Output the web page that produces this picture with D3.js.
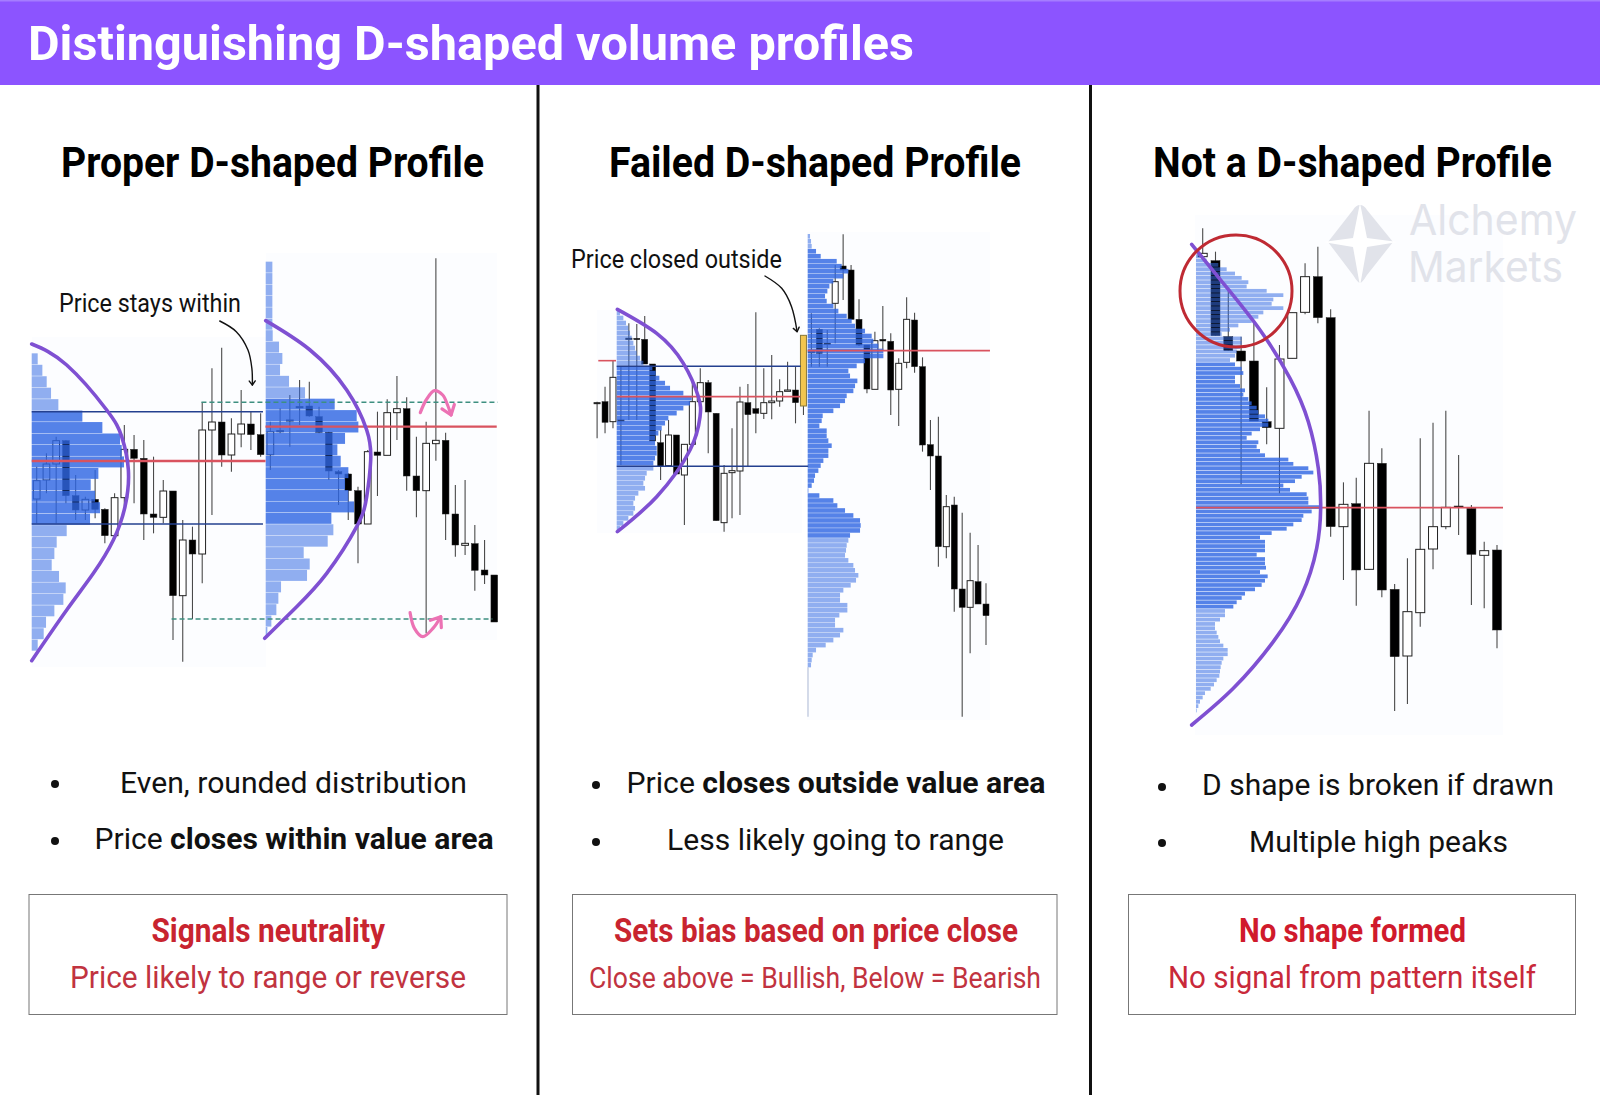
<!DOCTYPE html>
<html>
<head>
<meta charset="utf-8">
<title>Distinguishing D-shaped volume profiles</title>
<script src="https://cdn.jsdelivr.net/npm/d3@7"></script>
<style>
  html, body { margin: 0; padding: 0; background: #fff; }
  svg { display: block; }
  text { font-family: Roboto, "Noto Sans", sans-serif; }
</style>
</head>
<body>
<svg id="chart" width="1600" height="1095"></svg>
<script>
// Text
var pageTitle = "Distinguishing D-shaped volume profiles";
var panelTitles = ["Proper D-shaped Profile", "Failed D-shaped Profile", "Not a D-shaped Profile"];
var noteA = "Price stays within";
var noteB = "Price closed outside";
var boxHeads = ["Signals neutrality", "Sets bias based on price close", "No shape formed"];
var boxLines = ["Price likely to range or reverse", "Close above = Bullish, Below = Bearish", "No signal from pattern itself"];

// Candles: [high, body top, body bottom, low, kind]. Levels count down from the top of each chart.
// kind: 0 = up (hollow), 1 = down (black), 2 = highlighted close
var candlesA = [
  [680,722,777,850,0],[640,672,720,760,0],[590,602,672,850,0],[600,602,767,790,1],
  [705,767,810,840,1],[770,778,810,840,0],[690,778,808,835,1],[805,808,887,910,1],
  [760,773,887,887,0],[555,628,773,800,0],[585,628,655,790,1],[600,655,822,900,1],
  [650,822,832,880,1],[720,753,832,850,0],[753,753,1067,1200,1],[840,900,1067,1265,0],
  [860,900,942,1137,1],[487,570,942,1030,0],[385,546,570,825,0],[323,546,645,680,1],
  [535,582,645,695,0],[450,552,582,622,0],[515,552,584,630,1],[520,584,644,650,1],
  [545,575,644,690,0],[505,572,575,580,0],[465,540,543,620,0],[420,500,503,555,0],
  [425,498,528,530,1],[500,530,577,580,1],[575,577,693,720,1],[690,695,702,795,1],
  [700,702,752,840,1],[740,752,852,970,1],[630,635,852,852,0],[515,636,646,768,1],
  [478,518,646,646,0],[408,506,518,600,0],[472,506,708,752,1],[590,708,752,832,1],
  [545,610,752,1180,0],[55,601,611,662,0],[578,601,822,900,1],[735,822,915,950,1],
  [720,910,916,945,0],[855,911,991,1052,1],[900,990,1005,1032,1],[1005,1005,1146,1146,1]
];
var candlesB = [
  [545,548,551,655,0],[500,545,607,640,1],[422,472,605,625,0],[440,600,603,735,0],
  [310,355,358,600,0],[312,355,359,600,1],[288,358,432,432,1],[432,432,663,663,1],
  [630,668,740,780,1],[600,645,737,737,0],[645,645,762,762,1],[673,673,765,915,0],
  [480,545,673,673,0],[445,488,545,560,0],[480,488,576,700,1],[580,580,902,902,1],
  [735,760,908,935,0],[625,752,758,895,0],[500,546,753,885,0],[492,548,584,740,1],
  [277,566,580,640,1],[445,548,580,597,0],[405,543,548,598,0],[478,515,543,560,0],
  [425,510,514,510,0],[440,510,548,610,1],[346,346,558,585,2],[280,395,398,440,0],
  [325,328,400,440,1],[330,370,373,440,0],[135,185,250,370,0],[43,138,150,240,1],
  [135,150,298,298,1],[238,298,375,378,1],[375,375,507,520,1],[335,362,508,508,0],
  [258,358,363,390,1],[340,364,510,585,1],[415,430,508,618,0],[232,298,427,445,0],
  [278,300,440,458,1],[412,440,675,695,1],[600,674,708,810,1],[590,708,980,1040,1],
  [825,860,980,1015,0],[830,855,1107,1175,1],[878,1107,1162,1490,1],[938,1082,1162,1300,0],
  [975,1085,1152,1152,1],[1090,1152,1187,1275,1]
];
var candlesC = [
  [40,115,125,125,0],[110,137,362,362,1],[220,365,407,407,1],[365,408,438,808,1],
  [320,438,618,618,1],[517,620,638,688,1],[390,432,640,835,0],[293,293,430,430,0],
  [145,185,292,298,0],[95,185,308,325,1],[283,308,935,965,1],[802,868,935,1095,0],
  [788,866,1065,1172,1],[587,745,1063,1065,0],[700,745,1125,1147,1],[1107,1123,1325,1488,1],
  [1030,1190,1323,1467,0],[670,1003,1193,1235,0],[623,935,1002,1063,0],[587,877,935,943,0],
  [720,873,876,960,1],[870,880,1018,1170,1],[980,1007,1021,1180,0],[990,1005,1245,1300,1]
];

// Volume at each price row, top row first
var volumeA1 = [18,32,45,58,80,152,212,265,270,277,200,177,190,205,175,105,75,68,60,82,102,95,68,43,36,18];
var volumeA2 = [20,20,20,20,20,20,21,40,50,43,70,118,207,273,278,238,215,225,248,238,248,265,197,203,186,114,132,124,46,38,32,17,5];
var volumeB1 = [10,20,28,35,40,45,50,55,60,70,80,107,117,128,145,160,200,225,220,200,180,155,145,135,125,115,115,120,120,115,110,110,90,85,80,85,65,55,50,55,50,35,20,10];
var volumeB2 = [7,10,12,25,39,87,102,122,107,77,65,59,52,57,77,92,117,132,142,172,192,197,212,227,227,172,147,122,127,149,142,137,117,112,97,77,45,42,35,57,57,62,72,62,62,47,39,32,22,19,12,2,35,77,89,112,137,157,159,157,127,122,117,115,112,122,137,142,152,145,129,107,97,97,119,119,95,82,82,107,97,77,54,25,15,12,10];
var volumeC = [12,32,67,92,117,137,157,152,212,262,232,227,262,202,187,167,127,102,77,137,137,132,122,117,102,117,137,142,117,117,132,147,142,157,167,182,187,207,217,217,192,167,152,187,182,192,207,277,292,337,352,317,297,262,282,332,337,337,372,347,322,317,292,272,227,192,207,207,207,182,207,207,210,192,215,207,197,177,147,137,122,112,87,87,72,57,57,62,67,72,82,95,95,82,77,74,72,70,62,54,44,27,20,12,7,2];

// Hand drawn "D" curves: [volume, level]
var curveA1 = [[0,312],[105,375],[225,510],[270,590],[290,690],[280,800],[245,900],[185,1000],[105,1110],[0,1262]];
var curveA2 = [[0,242],[133,330],[243,450],[303,570],[315,660],[303,770],[273,860],[183,1000],[93,1100],[-3,1195]];
var curveB1 = [[2,268],[120,340],[200,430],[245,530],[250,590],[220,690],[120,830],[2,935]];
var curveC = [[-13,88],[82,205],[192,345],[282,490],[337,620],[367,760],[374,880],[362,1000],[317,1140],[232,1280],[112,1420],[-13,1530]];

// Level lines: [level, first candle, last candle]
var valueLinesA = [[515,-0.51,23.24],[852,-0.51,23.24]];
var pocLinesA = [[663,-0.51,23.5],[560,23.5,47.25]];
var rangeLinesA = [[487,16.92,47.35],[1137,13.85,46.8]];
var valueLinesB = [[439,2.47,25.65],[739,2.47,26.6]];
var pocLinesB = [[422,0.15,2.38],[530,2.47,25.6],[392,26.53,49.5]];
var pocLinesC = [[878,-0.52,23.47]];

// Arrows: [candle, level]
var bounceTop = [[39.4,518],[40,480],[40.85,452],[41.7,465],[42.2,495],[42.56,525]];
var bounceBottom = [[38.35,1118],[38.8,1165],[39.65,1190],[40.7,1165],[41.5,1130]];
var noteArrowA = [[18.8,243],[20.5,275],[21.7,330],[22.1,385],[22.15,435]];
var noteArrowB = [[21.15,168],[23.26,205],[24.5,260],[25.2,335]];

var svg = d3.select("#chart");
var purple = "#8c54ff", curvePurple = "#7f50d2", red = "#d9535f", navy = "#24408f", teal = "#3d8f80", pink = "#ec72b4";

// Scales
var xA = d3.scaleLinear().domain([0, 47]).range([36.7, 494.3]);
var yA = d3.scaleLinear().domain([0, 1320]).range([240, 680]);
var xB = d3.scaleLinear().domain([0, 49]).range([597.1, 986]);
var yB = d3.scaleLinear().domain([0, 1500]).range([220, 720]);
var xC = d3.scaleLinear().domain([0, 23]).range([1202.7, 1497]);
var yC = d3.scaleLinear().domain([0, 1560]).range([215, 735]);

function volScale(start) {
	return d3.scaleLinear().domain([0, 300]).range([start, start + 100]);
}

// Header, dividers
svg.append("rect").attr("width", 1600).attr("height", 85).attr("fill", purple);
svg.append("rect").attr("width", 1600).attr("height", 1.5).attr("fill", "#a57dff");
svg.selectAll(".divider").data([538, 1090.5]).enter().append("line")
	.attr("x1", function (d) { return d; }).attr("x2", function (d) { return d; })
	.attr("y1", 85).attr("y2", 1095).attr("stroke", "#111").attr("stroke-width", 3);

function label(text, x, base, width, size, weight, fill) {
	return svg.append("text").attr("x", x).attr("y", base)
		.attr("font-size", size).attr("font-weight", weight).attr("fill", fill)
		.attr("textLength", width).attr("lengthAdjust", "spacingAndGlyphs")
		.text(text);
}

label(pageTitle, 28, 60, 886, 49, 700, "#fff");
label(panelTitles[0], 61, 177, 423, 42, 700, "#000");
label(panelTitles[1], 609, 177, 412, 42, 700, "#000");
label(panelTitles[2], 1153, 177, 399, 42, 700, "#000");

// Chart backdrops
svg.selectAll(".back").data([[32,337,234,330],[266,253,231,387],[597,310,205,223],[807,232,183,488],[1195,215,308,520]]).enter()
	.append("rect").attr("x", function (d) { return d[0]; }).attr("y", function (d) { return d[1]; })
	.attr("width", function (d) { return d[2]; }).attr("height", function (d) { return d[3]; })
	.attr("fill", "#fcfdff");

// Watermark
var mark = svg.append("g").attr("fill", "#e1e3ea");
mark.append("path").attr("d", "M1360,205 Q1364,205 1367,210 L1393,242 L1367,275 Q1362,283 1360,283 Q1358,283 1353,275 L1328,242 L1353,210 Q1356,205 1360,205Z");
mark.append("path").attr("fill", "#fff").attr("d", "M1360,203 L1367,238 L1398,242 L1367,247 L1360,286 L1353,247 L1323,242 L1353,238Z");
svg.append("text").attr("x", 1409).attr("y", 235).attr("font-size", 43).attr("fill", "#e1e3ea").style("font-family", "Inter").attr("textLength", 168).attr("lengthAdjust", "spacingAndGlyphs").text("Alchemy");
svg.append("text").attr("x", 1408).attr("y", 282).attr("font-size", 43).attr("fill", "#e1e3ea").style("font-family", "Inter").attr("textLength", 155).attr("lengthAdjust", "spacingAndGlyphs").text("Markets");

function drawCandles(rows, x, y, bodyWidth) {
	var g = svg.append("g");
	g.selectAll("line").data(rows).enter().append("line")
		.attr("x1", function (d, i) { return x(i); }).attr("x2", function (d, i) { return x(i); })
		.attr("y1", function (d) { return y(d[0]); }).attr("y2", function (d) { return y(d[3]); })
		.attr("stroke", "#4a4a4a").attr("stroke-width", 1.1);
	g.selectAll("rect").data(rows).enter().append("rect")
		.attr("x", function (d, i) { return x(i) - bodyWidth / 2; })
		.attr("y", function (d) { return y(d[1]); })
		.attr("width", bodyWidth)
		.attr("height", function (d) { return Math.max(1, y(d[2]) - y(d[1])); })
		.attr("fill", function (d) { return d[4] === 1 ? "#000" : d[4] === 2 ? "#f2c650" : "#fff"; })
		.attr("stroke", function (d) { return d[4] === 2 ? "#8a7a3a" : "#222"; })
		.attr("stroke-width", function (d) { return d[4] === 1 ? 0.5 : 1; });
}

// valueArea = first and last row drawn in the dark colour
function drawProfile(values, start, y, top, bottom, valueArea, gap) {
	var v = volScale(start);
	var rows = d3.scaleBand().domain(d3.range(values.length)).range([y(top), y(bottom)]).paddingInner(gap);
	svg.append("g").selectAll("rect").data(values).enter().append("rect")
		.attr("x", v(0))
		.attr("y", function (d, i) { return rows(i); })
		.attr("width", function (d) { return v(d) - v(0); })
		.attr("height", rows.bandwidth())
		.attr("fill", function (d, i) { return i >= valueArea[0] && i <= valueArea[1] ? "rgb(48,102,227)" : "rgb(55,109,227)"; })
		.attr("fill-opacity", function (d, i) { return i >= valueArea[0] && i <= valueArea[1] ? 0.82 : 0.55; });
}

function drawLevels(rows, x, y, color, width, dash) {
	svg.append("g").selectAll("line").data(rows).enter().append("line")
		.attr("x1", function (d) { return x(d[1]); }).attr("x2", function (d) { return x(d[2]); })
		.attr("y1", function (d) { return y(d[0]); }).attr("y2", function (d) { return y(d[0]); })
		.attr("stroke", color).attr("stroke-width", width).attr("stroke-dasharray", dash || null);
}

function drawCurve(points, start, y) {
	var v = volScale(start);
	var line = d3.line().x(function (d) { return v(d[0]); }).y(function (d) { return y(d[1]); }).curve(d3.curveNatural);
	svg.append("path").attr("d", line(points)).attr("fill", "none")
		.attr("stroke", curvePurple).attr("stroke-width", 3.6).attr("stroke-linecap", "round");
}

function drawArrow(points, x, y, color, width, headSize) {
	var line = d3.line().x(function (d) { return x(d[0]); }).y(function (d) { return y(d[1]); }).curve(d3.curveCatmullRom);
	svg.append("path").attr("d", line(points)).attr("fill", "none")
		.attr("stroke", color).attr("stroke-width", width).attr("stroke-linecap", "round");
	// Arrow head follows the last segment
	var n = points.length;
	var ex = x(points[n - 1][0]), ey = y(points[n - 1][1]);
	var ang = Math.atan2(ey - y(points[n - 2][1]), ex - x(points[n - 2][0]));
	var head = [ang - 2.5, ang + 2.5].map(function (a) {
		return [ex + headSize * Math.cos(a), ey + headSize * Math.sin(a)];
	});
	svg.append("path").attr("d", "M" + head[0] + "L" + ex + "," + ey + "L" + head[1]).attr("fill", "none")
		.attr("stroke", color).attr("stroke-width", width).attr("stroke-linecap", "round").attr("stroke-linejoin", "round");
}

// Panel A
drawCandles(candlesA, xA, yA, 6.7);
drawProfile(volumeA1, 31.7, yA, 340, 1232, [5, 14], 0.04);
drawProfile(volumeA2, 265.7, yA, 65, 1194, [12, 22], 0.04);
drawLevels(valueLinesA, xA, yA, navy, 1.5);
drawLevels(rangeLinesA, xA, yA, teal, 1.5, "5,3");
drawLevels(pocLinesA, xA, yA, red, 2.4);
drawCurve(curveA1, 31.7, yA);
drawCurve(curveA2, 265.7, yA);
drawArrow(bounceTop, xA, yA, pink, 3.2, 11);
drawArrow(bounceBottom, xA, yA, pink, 3.2, 11);
drawArrow(noteArrowA, xA, yA, "#111", 1.4, 5);
label(noteA, 59, 312, 182, 25, 400, "#111");

// Panel B
drawCandles(candlesB, xB, yB, 6);
drawProfile(volumeB1, 616.7, yB, 272, 932, [11, 30], 0.08);
drawProfile(volumeB2, 807.7, yB, 42, 1342, [3, 60], 0.08);
svg.append("line").attr("x1", 808).attr("x2", 808).attr("y1", yB(1342)).attr("y2", yB(1490)).attr("stroke", "#b9c4da").attr("stroke-width", 1.2);
drawLevels(valueLinesB, xB, yB, navy, 1.5);
drawLevels(pocLinesB, xB, yB, red, 1.6);
drawCurve(curveB1, 616.7, yB);
drawArrow(noteArrowB, xB, yB, "#111", 1.4, 5);
label(noteB, 571, 268, 211, 25, 400, "#111");

// Panel C
drawCandles(candlesC, xC, yC, 9);
drawProfile(volumeC, 1196, yC, 118, 1492, [25, 81], 0.13);
drawLevels(pocLinesC, xC, yC, red, 1.8);
drawCurve(curveC, 1196, yC);
svg.append("circle").attr("cx", 1236).attr("cy", 291).attr("r", 56).attr("fill", "none").attr("stroke", "#bf2a33").attr("stroke-width", 3);

// Bullets
function bullet(dotX, dotY, parts, x, base, width) {
	svg.append("circle").attr("cx", dotX).attr("cy", dotY).attr("r", 4).attr("fill", "#111");
	var t = svg.append("text").attr("x", x).attr("y", base).attr("font-size", 29).attr("fill", "#111")
		.attr("textLength", width).attr("lengthAdjust", "spacingAndGlyphs");
	parts.forEach(function (p) {
		t.append("tspan").attr("font-weight", p[1]).text(p[0]);
	});
}
bullet(55, 784, [["Even, rounded distribution", 400]], 120, 793, 347);
bullet(55, 841, [["Price ", 400], ["closes within value area", 700]], 94.5, 849, 399);
bullet(596, 785, [["Price ", 400], ["closes outside value area", 700]], 626.5, 793, 419);
bullet(596, 842, [["Less likely going to range", 400]], 667, 850, 337);
bullet(1162, 787, [["D shape is broken if drawn", 400]], 1202, 795, 352);
bullet(1162, 843, [["Multiple high peaks", 400]], 1249, 852, 259);

// Boxes
svg.selectAll(".box").data([[29,478],[572.5,484.5],[1128.5,447]]).enter().append("rect")
	.attr("x", function (d) { return d[0]; }).attr("y", 894.5)
	.attr("width", function (d) { return d[1]; }).attr("height", 120)
	.attr("fill", "none").attr("stroke", "#777").attr("stroke-width", 1);

label(boxHeads[0], 151.5, 942, 233.5, 33, 700, "#c8242f");
label(boxHeads[1], 614, 942, 404, 33, 700, "#c8242f");
label(boxHeads[2], 1239, 942, 227, 33, 700, "#d01a2c");
label(boxLines[0], 70, 988, 396, 32, 400, "#c13340");
label(boxLines[1], 589, 988, 452, 30, 400, "#c13340");
label(boxLines[2], 1168, 988, 368, 32, 400, "#c9293a");
</script>
</body>
</html>
